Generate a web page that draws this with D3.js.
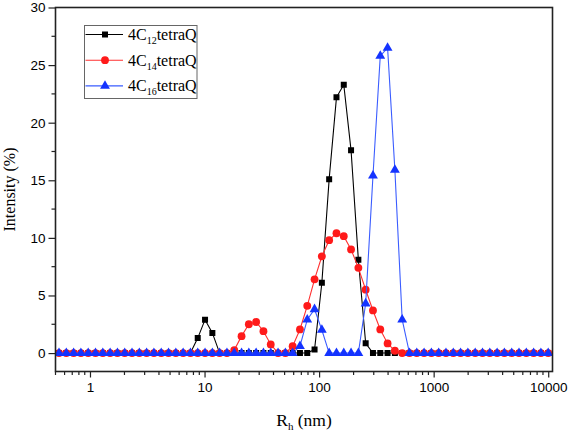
<!DOCTYPE html>
<html><head><meta charset="utf-8">
<script src="https://cdn.jsdelivr.net/npm/d3@7"></script>
<style>
body{margin:0;background:#fff}
.sans{font-family:"Liberation Sans",Arial,Helvetica,sans-serif}
.serif{font-family:"Liberation Serif","Times New Roman","DejaVu Serif",serif}
</style>
</head><body>
<svg id="c" width="569" height="433"></svg>
<script>
const sizes = [0.5365,0.6213,0.7195,0.8332,0.9649,1.117,1.294,1.499,1.736,2.010,2.328,2.696,3.122,3.615,4.187,4.849,5.615,6.503,7.531,8.721,10.10,11.70,13.54,15.69,18.17,21.04,24.36,28.21,32.67,37.84,43.82,50.75,58.77,68.06,78.82,91.28,105.7,122.4,141.8,164.2,190.1,220.2,255.0,295.3,342.0,396.1,458.7,531.2,615.1,712.4,825.0,955.4,1106,1281,1484,1718,1990,2305,2669,3091,3580,4145,4801,5560,6439,7456,8635,10000];
const c12 = [0,0,0,0,0,0,0,0,0,0,0,0,0,0,0,0,0,0,0,1.3,2.9,1.75,0,0,0,0,0,0,0,0,0,0,0,0,0,0.3,6.1,15.1,22.2,23.3,17.6,8.1,0.85,0,0,0,0,0,0,0,0,0,0,0,0,0,0,0,0,0,0,0,0,0,0,0,0,0];
const c14 = [0,0,0,0,0,0,0,0,0,0,0,0,0,0,0,0,0,0,0,0,0,0,0,0,0.26,1.47,2.5,2.7,1.9,0.75,0,0,0.6,2.05,4.1,6.4,8.4,9.8,10.4,10.15,9.0,7.4,5.5,3.7,2.05,0.84,0.2,0,0,0,0,0,0,0,0,0,0,0,0,0,0,0,0,0,0,0,0,0];
const c16 = [0,0,0,0,0,0,0,0,0,0,0,0,0,0,0,0,0,0,0,0,0,0,0,0,0,0,0,0,0,0,0,0,0,0.6,2.9,3.8,2.0,0,0,0,0,0,4.3,15.4,25.8,26.5,15.9,2.9,0,0,0,0,0,0,0,0,0,0,0,0,0,0,0,0,0,0,0,0];
const seriesNames = ["12","14","16"];
const xMajor = [1,10,100,1000,10000];
const yMajor = [0,5,10,15,20,25,30];

const L=55.5, R=552.5, T=7.5, B=371.5;
const svg = d3.select("#c");
const x = d3.scaleLog().domain([0.5,10900]).range([L,R]);
const y = d3.scaleLinear().domain([-1.6,30]).range([B,T]);

const series = [
  {v:c12, color:"#000000", lineColor:"#000000", shape:d3.symbolSquare, size:36, name:seriesNames[0]},
  {v:c14, color:"#ff1a1a", lineColor:"#ff3030", shape:d3.symbolCircle, size:48, name:seriesNames[1]},
  {v:c16, color:"#1433ff", lineColor:"#3a5cff", shape:d3.symbolTriangle, size:42, name:seriesNames[2]}
];

svg.append("clipPath").attr("id","cp").append("rect")
  .attr("x",L).attr("y",T).attr("width",R-L).attr("height",B-T);

const g = svg.append("g").attr("clip-path","url(#cp)");
const line = d3.line().x((d,i)=>x(sizes[i])).y(d=>y(d));
series.forEach(s=>{
  g.append("path").datum(s.v).attr("d",line).attr("fill","none")
    .attr("stroke",s.lineColor).attr("stroke-width",1.1);
  g.selectAll(null).data(s.v).enter().append("path")
    .attr("d",d3.symbol().type(s.shape).size(s.size))
    .attr("transform",(d,i)=>`translate(${x(sizes[i])},${y(d)})`)
    .attr("fill",s.color);
});

svg.append("rect").attr("x",L).attr("y",T).attr("width",R-L).attr("height",B-T)
  .attr("fill","none").attr("stroke","#222").attr("stroke-width",1.6);

const minorX=[];
[0.1,1,10,100,1000].forEach(dec=>{for(let k=2;k<=9;k++){const v=k*dec; if(v>=0.5&&v<10900&&!xMajor.includes(v)) minorX.push(v);}});
const xAxis = d3.axisBottom(x).tickValues(xMajor).tickFormat(d3.format("d")).tickSize(6).tickPadding(5);
const xa = svg.append("g").attr("transform",`translate(0,${B})`).call(xAxis);
xa.select(".domain").remove();
xa.attr("font-family",null).attr("font-size",null).attr("class","sans");
xa.selectAll("text").attr("font-size",13.5).attr("fill","#000");
xa.selectAll("line").attr("stroke","#222").attr("stroke-width",1.2);
svg.append("g").selectAll("line").data(minorX).enter().append("line")
  .attr("x1",d=>x(d)).attr("x2",d=>x(d)).attr("y1",B).attr("y2",B+3.5)
  .attr("stroke","#222").attr("stroke-width",1.2);

const yAxis = d3.axisLeft(y).tickValues(yMajor).tickSize(7).tickPadding(3);
const ya = svg.append("g").attr("transform",`translate(${L},0)`).call(yAxis);
ya.select(".domain").remove();
ya.attr("font-family",null).attr("font-size",null).attr("class","sans");
ya.selectAll("text").attr("font-size",13.5).attr("fill","#000");
ya.selectAll("line").attr("stroke","#222").attr("stroke-width",1.2);
svg.append("g").selectAll("line").data([2.5,7.5,12.5,17.5,22.5,27.5]).enter().append("line")
  .attr("x1",L).attr("x2",L-4).attr("y1",d=>y(d)).attr("y2",d=>y(d))
  .attr("stroke","#222").attr("stroke-width",1.2);

const xt = svg.append("text").attr("class","serif").attr("x",(L+R)/2).attr("y",426).attr("text-anchor","middle")
  .attr("font-size",17.5);
xt.append("tspan").text("R");
xt.append("tspan").attr("font-size",11).attr("dy",4).text("h");
xt.append("tspan").attr("dy",-4).text(" (nm)");

svg.append("text").attr("class","serif").attr("transform",`translate(15,${(T+B)/2}) rotate(-90)`).attr("text-anchor","middle")
  .attr("font-size",16).text("Intensity (%)");

const lx=84.5, ly=25.5;
svg.append("rect").attr("x",lx).attr("y",ly).attr("width",112.5).attr("height",73)
  .attr("fill","#fff").attr("stroke","#666").attr("stroke-width",1);
series.forEach((s,i)=>{
  const yy = ly+9+i*25.7;
  svg.append("line").attr("x1",lx+1).attr("x2",lx+38.5).attr("y1",yy).attr("y2",yy)
    .attr("stroke",s.lineColor).attr("stroke-width",1.1);
  svg.append("path").attr("d",d3.symbol().type(s.shape).size(s.size))
    .attr("transform",`translate(${lx+20.5},${yy})`).attr("fill",s.color);
  const t = svg.append("text").attr("class","serif").attr("x",lx+43.5).attr("y",yy+5.5)
    .attr("font-size",16);
  t.append("tspan").text("4C");
  t.append("tspan").attr("font-size",10).attr("dy",4).text(s.name);
  t.append("tspan").attr("dy",-4).text("tetraQ");
});
</script>
</body></html>
